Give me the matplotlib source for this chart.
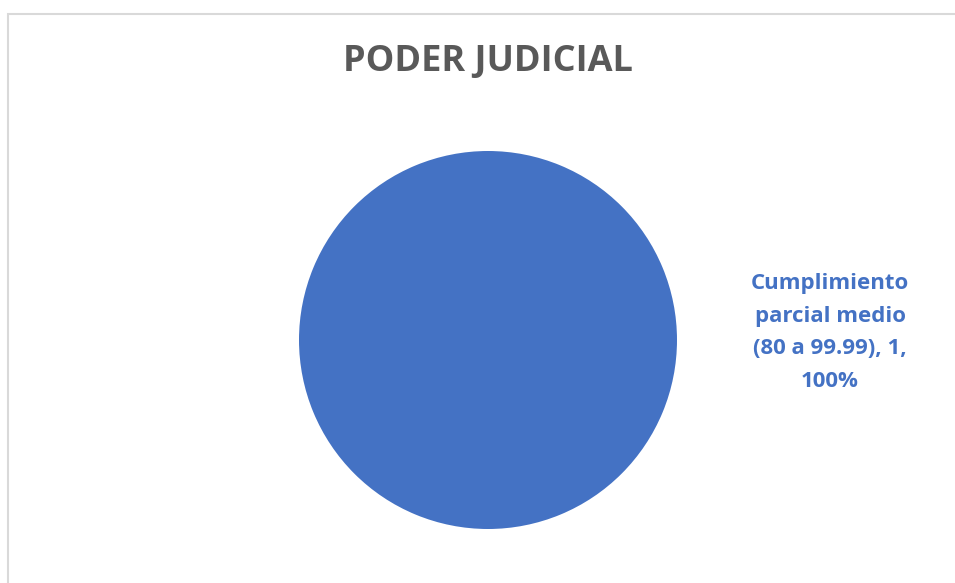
import matplotlib.pyplot as plt
from matplotlib.patches import Rectangle

# datos
categorias = ["Cumplimiento\nparcial medio\n(80 a 99.99)"]
valores = [1]
colores = ["#4472C4"]
titulo = "PODER JUDICIAL"

fig = plt.figure(figsize=(9.55, 5.83), dpi=100)

# borde del area del grafico
fig.patches.append(Rectangle((8 / 955, -0.1), 1.2, 1 - 14.5 / 583 + 0.1,
                             transform=fig.transFigure, fill=False,
                             edgecolor="#D9D9D9", linewidth=1.5))

ax = fig.add_axes([299 / 955, 54 / 583, 378 / 955, 378 / 583])
ax.pie(valores, colors=colores, startangle=90, radius=1,
       wedgeprops=dict(linewidth=0))
ax.set_xlim(-1, 1)
ax.set_ylim(-1, 1)
ax.set_aspect("equal")
ax.axis("off")

total = sum(valores)
for cat, v in zip(categorias, valores):
    etiqueta = f"{cat}, {v},\n{v / total:.0%}"
    ax.text(1.81, 0.04, etiqueta, ha="center", va="center", color=colores[0],
            fontsize=16, fontweight="bold", family="Open Sans",
            linespacing=1.72, clip_on=False)

fig.text(488 / 955, 1 - 62 / 583, titulo, ha="center", va="center",
         fontsize=26, fontweight="bold", color="#595959", family="Open Sans")

fig.savefig("out.png", dpi=100)
